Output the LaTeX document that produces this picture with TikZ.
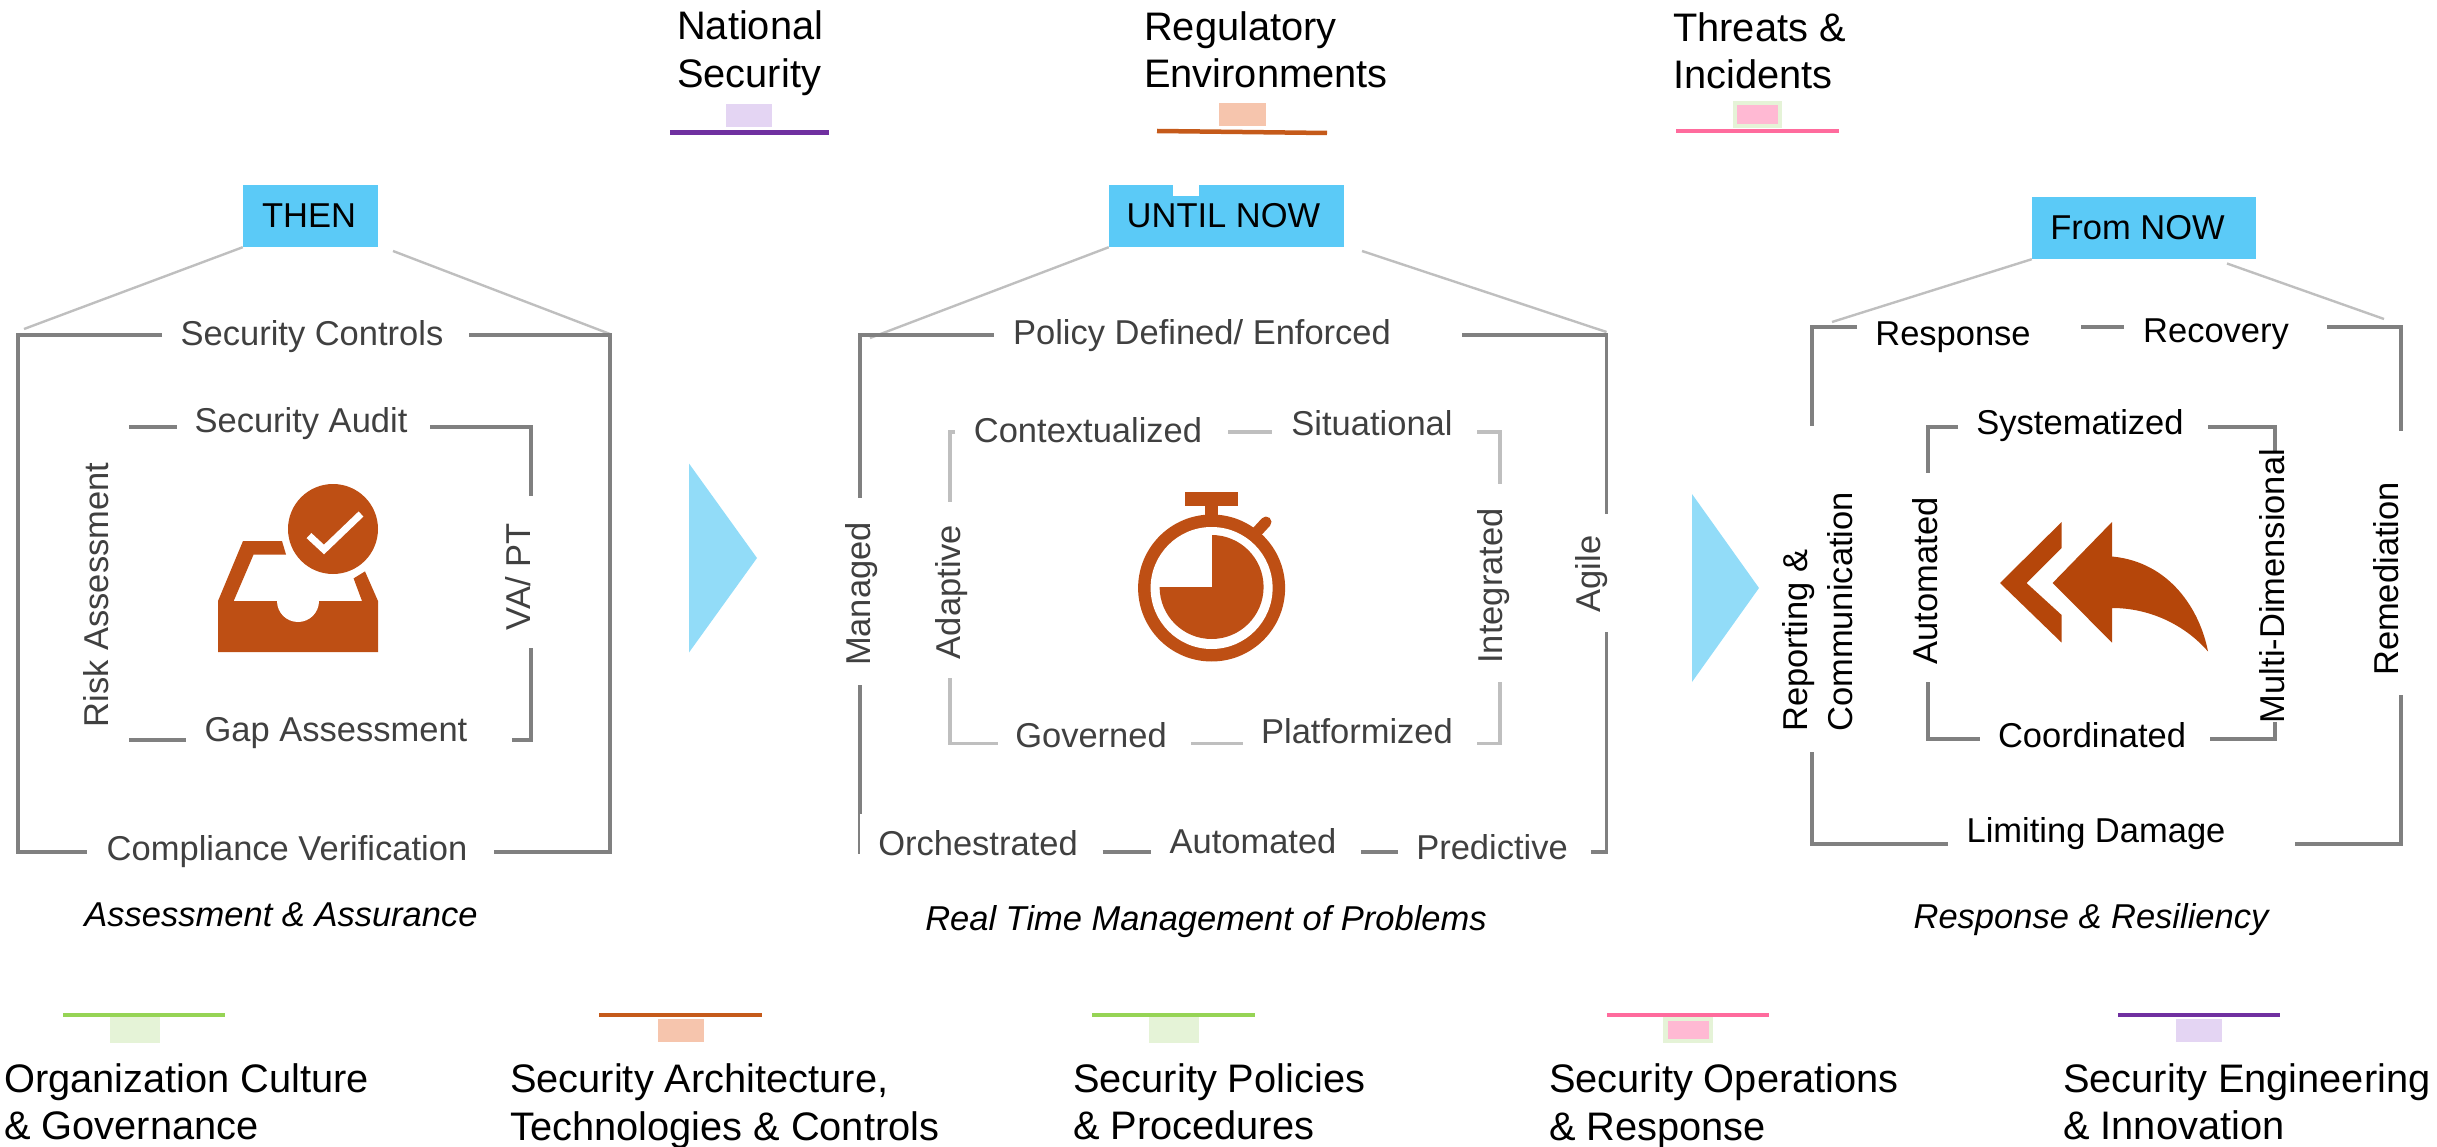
\documentclass[tikz,border=0pt]{standalone}
\usepackage{fontspec}
\setmainfont{Liberation Sans}
\definecolor{hdr}{HTML}{5BCAF7}
\definecolor{tri}{HTML}{92DCF8}
\definecolor{ic}{HTML}{BE4F14}
\definecolor{ic2}{HTML}{B5460A}
\definecolor{txd}{HTML}{404040}
\definecolor{purp}{HTML}{7030A0}
\definecolor{purs}{HTML}{E4D5F3}
\definecolor{orng}{HTML}{C55A1A}
\definecolor{orns}{HTML}{F6C5AD}
\definecolor{pink}{HTML}{FF6B9D}
\definecolor{pins}{HTML}{FFB9D3}
\definecolor{grn}{HTML}{96D455}
\definecolor{grns}{HTML}{E5F3D7}
\definecolor{gline}{HTML}{808080}
\definecolor{lline}{HTML}{BFBFBF}
\tikzset{
  x=1pt,y=-1pt,
  lab/.style={inner sep=0pt,font=\fontsize{34.5}{40}\selectfont,text=txd},
  labk/.style={lab,text=black},
  vlab/.style={lab,rotate=90},
  vlabk/.style={labk,rotate=90},
  capt/.style={labk,font=\fontsize{34.5}{40}\selectfont\itshape},
  hdrbox/.style={fill=hdr,draw=none,inner sep=0pt,font=\fontsize{34.5}{40}\selectfont,text=black},
  leg/.style={inner sep=0pt,align=left,anchor=west,font=\fontsize{39.8}{47.5}\selectfont,text=black},
  gl/.style={color=gline,line width=3.6pt},
  ll/.style={color=lline,line width=3.4pt},
  conn/.style={color=lline,line width=2.4pt},
  bar/.style={line width=4.5pt}
}
\begin{document}
\begin{tikzpicture}
\useasboundingbox (0,0) rectangle (2437,1147);
% headers
\node[hdrbox,minimum width=135pt,minimum height=62pt] (then) at (310.5,216) {\mbox{THEN\kern3pt}};
\node[hdrbox,minimum width=235pt,minimum height=62pt] (until) at (1226.5,216) {\mbox{UNTIL NOW\kern6pt}};
\fill[white] (1173,184) rectangle (1199,196);
\node[hdrbox,minimum width=224pt,minimum height=62pt] (fromn) at (2144,228) {\mbox{From NOW\kern13pt}};
% connector lines
\coordinate (a1) at (24,329); \coordinate (a2) at (610,334);
\coordinate (b1) at (870,338); \coordinate (b2) at (1606.5,332);
\coordinate (c1) at (1832,322); \coordinate (c2) at (2384,319);
\coordinate (t1) at (393,251); \coordinate (t2) at (1362,251); \coordinate (t3) at (2227,263.5);
\draw[conn] (then.south west) -- (a1);
\draw[conn] (t1) -- (a2);
\draw[conn] (until.south west) -- (b1);
\draw[conn] (t2) -- (b2);
\draw[conn] (fromn.south west) -- (c1);
\draw[conn] (t3) -- (c2);
% frame 1
\draw[gl] (162,335) -- (18,335) -- (18,852) -- (87,852);
\draw[gl] (469,335) -- (610,335) -- (610,852) -- (494,852);
\draw[gl] (129,427) -- (177,427);
\draw[gl] (430,427) -- (531,427) -- (531,496);
\draw[gl] (531,648) -- (531,740) -- (512,740);
\draw[gl] (129,740) -- (186,740);
\node[lab] (sc) at (312,337) {Security Controls};
\node[lab] (sa) at (301,424) {Security Audit};
\node[lab] (ga) at (336,733) {Gap Assessment};
\node[lab] (cv) at (287,852) {Compliance Verification};
\node[vlab] (ra) at (96,595) {Risk Assessment};
\node[vlab] (vp) at (518,577) {VA/ PT};
\node[capt] (c1t) at (281,915) {Assessment \& Assurance};
% icon 1
\fill[ic] (218,601) -- (243,541) -- (282,541) -- (286,554.5) -- (253.6,554.5) -- (233.7,601) -- (362,601) -- (353.6,578.4) -- (365,571.4) -- (378,601) -- (378,652) -- (218,652) -- cycle;
\fill[white] (298,601) circle[radius=21];
\fill[ic] (333,529) circle[radius=45];
\draw[white,line width=7pt] (309,535.6) -- (324,549.5) -- (361,514);
% triangles
\fill[tri] (689,463.5) -- (757,558) -- (689,652.5) -- cycle;
\fill[tri] (1692,494) -- (1759,588) -- (1692,682) -- cycle;
% frame 2
\draw[gl] (993.5,335) -- (860,335) -- (860,498);
\draw[gl] (860,685) -- (860,814);
\draw[color=gline,line width=1.6pt] (859,814) -- (859,854);
\draw[gl] (1462,335) -- (1606.5,335) -- (1606.5,514);
\draw[gl] (1606.5,632) -- (1606.5,852) -- (1591,852);
\draw[gl] (1102.5,852) -- (1151,852);
\draw[gl] (1361,852) -- (1397.6,852);
\draw[ll] (955,432) -- (950,432) -- (950,502);
\draw[ll] (1228,432) -- (1272,432);
\draw[ll] (1477,432) -- (1500,432) -- (1500,484);
\draw[ll] (1500,682) -- (1500,743.6) -- (1477,743.6);
\draw[ll] (950,678) -- (950,743.6) -- (998,743.6);
\draw[ll] (1191,743.6) -- (1242.6,743.6);
\node[lab] (pd) at (1202,336) {Policy Defined/ Enforced};
\node[lab] (ct) at (1088,430) {Contextualized};
\node[lab] (si) at (1372,423) {Situational};
\node[lab] (go) at (1091,735) {Governed};
\node[lab] (pl) at (1357,731) {Platformized};
\node[lab] (or) at (978,843) {Orchestrated};
\node[lab] (au) at (1253,841) {Automated};
\node[lab] (pr) at (1492,847) {Predictive};
\node[vlab] (ma) at (861.5,594) {Managed};
\node[vlab] (ad) at (952,592) {Adaptive};
\node[vlab] (in) at (1493.6,586) {Integrated};
\node[vlab] (ag) at (1592,574) {Agile};
\node[capt] (c2t) at (1206,922) {Real Time Management of Problems};
% stopwatch
\fill[ic] (1185,492) rectangle (1238,506);
\fill[ic] (1205,505) rectangle (1218,518);
\draw[ic,line width=11pt,line cap=round] (1254,535) -- (1266,522);
\fill[ic] (1211.6,588) circle[radius=73.5];
\fill[white] (1211.6,588) circle[radius=61];
\fill[ic] (1211.6,587) circle[radius=52];
\begin{scope}
\clip (1211.6,587) circle[radius=55];
\fill[white] (1211.6,587) rectangle (1150,525);
\end{scope}
% frame 3
\draw[gl] (1857,327) -- (1812,327) -- (1812,426);
\draw[gl] (2081,327) -- (2124,327);
\draw[gl] (2327,327) -- (2401,327) -- (2401,431);
\draw[gl] (2401,695) -- (2401,844) -- (2295,844);
\draw[gl] (1812,752) -- (1812,844) -- (1948,844);
\draw[gl] (1958,427) -- (1928,427) -- (1928,473);
\draw[gl] (2208,427) -- (2275,427) -- (2275,451);
\draw[gl] (1928,682) -- (1928,739) -- (1980,739);
\draw[gl] (2210,739) -- (2275,739) -- (2275,722);
\node[labk] (re) at (1953,337) {Response};
\node[labk] (rc) at (2216,334) {Recovery};
\node[labk] (sy) at (2080,426) {Systematized};
\node[labk] (co) at (2092,735) {Coordinated};
\node[labk] (ld) at (2096,834) {Limiting Damage};
\node[vlabk] (am) at (1925,581) {Automated};
\node[vlabk] (md) at (2272.5,586) {Multi-Dimensional};
\node[vlabk] (rm) at (2386,579) {Remediation};
\node[vlabk,align=left,anchor=north west,font=\fontsize{34.5}{45}\selectfont] (rp) at (1782,732) {Reporting \&\\Communication};
\node[capt] (c3t) at (2091,920) {Response \& Resiliency};
% reply arrow
\fill[ic2] (2061.6,522) -- (2000,583) -- (2061.6,642.6) -- (2061.6,615) -- (2026.5,583) -- (2061.6,548) -- cycle;
\fill[ic2] (2112,522) -- (2052.6,583) -- (2112,642.6) -- (2112,608) .. controls (2150,608) and (2185,625) .. (2208,651.5) .. controls (2200,610) and (2170,562) .. (2112,556.5) -- cycle;
% top legend
\node[leg] (n1) at (677,53) {National\\Security};
\fill[purs] (726,104) rectangle (772,127);
\draw[purp,bar] (670,132.5) -- (829,132.5);
\node[leg] (n2) at (1144,50) {Regulatory\\Environments};
\fill[orns] (1219,103) rectangle (1265.5,126);
\draw[orng,bar] (1157,131) -- (1327,133);
\node[leg] (n3) at (1673,51) {Threats \&\\Incidents};
\fill[grns] (1732.5,101) rectangle (1782,128);
\fill[pins] (1736.6,105) rectangle (1778,124);
\draw[pink,bar] (1676,131) -- (1839,131);
% bottom legend
\fill[grns] (110,1016) rectangle (160,1043);
\draw[grn,bar] (63,1015) -- (225,1015);
\node[leg] (o1) at (4,1102) {Organization Culture\\\& Governance};
\fill[orns] (658,1019) rectangle (704,1042);
\draw[orng,bar] (599,1015) -- (762,1015);
\node[leg] (o2) at (510,1106) {Security Architecture,\\Technologies \& Controls};
\fill[grns] (1149,1016) rectangle (1199,1043);
\draw[grn,bar] (1092,1015) -- (1255,1015);
\node[leg] (o3) at (1073,1102) {Security Policies\\\& Procedures};
\fill[grns] (1663,1016) rectangle (1713,1043);
\fill[pins] (1668,1021) rectangle (1709,1039);
\draw[pink,bar] (1607,1015) -- (1769,1015);
\node[leg] (o4) at (1549,1106) {Security Operations\\\& Response};
\fill[purs] (2176,1019) rectangle (2222,1042);
\draw[purp,bar] (2118,1015) -- (2280,1015);
\node[leg] (o5) at (2063,1102) {Security Engineering\\\& Innovation};
\end{tikzpicture}
\end{document}
